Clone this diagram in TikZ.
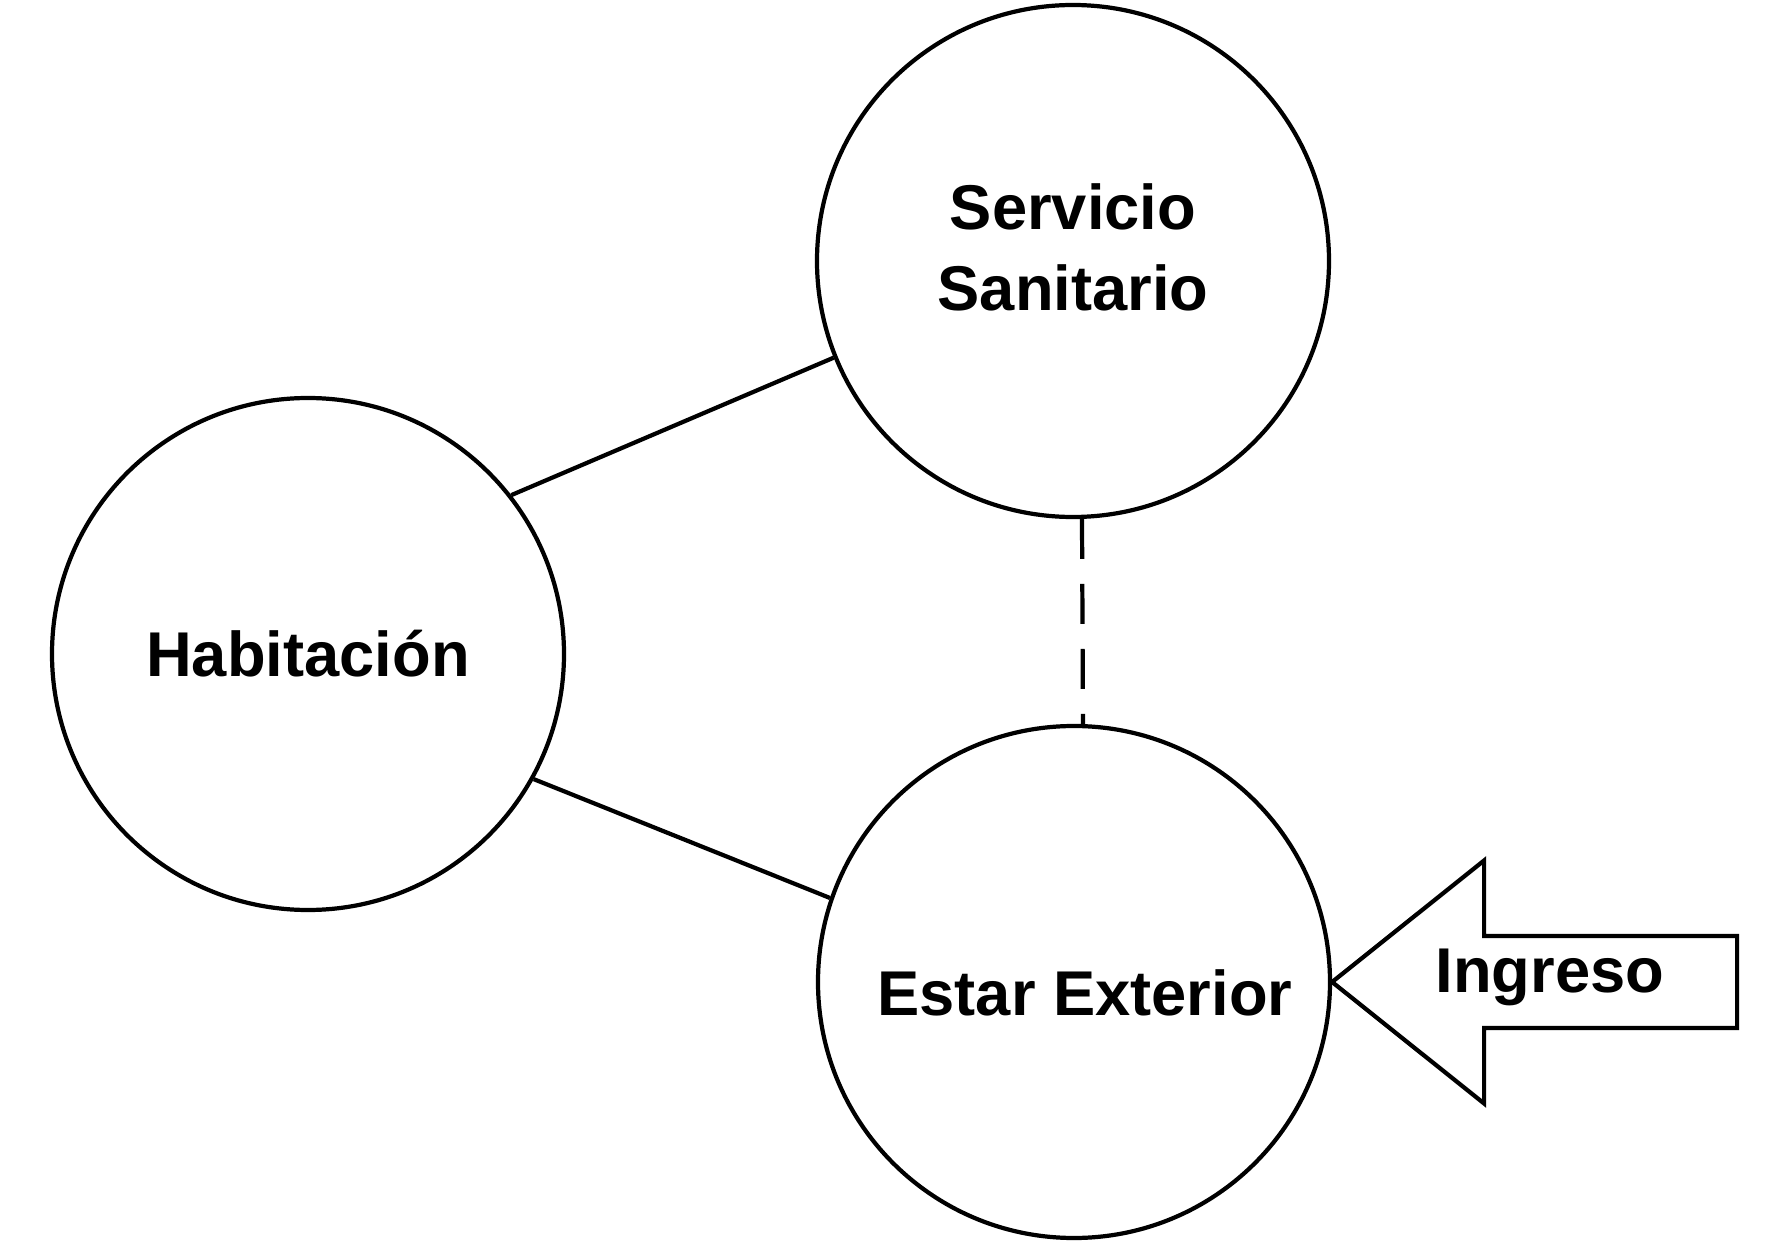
\documentclass[tikz,border=0pt]{standalone}
\usepackage{fontspec}
\setmainfont{Liberation Sans}
\usepackage{tikz}
\usetikzlibrary{positioning,calc}

\begin{document}
\begin{tikzpicture}[
    font=\fontsize{18}{23}\selectfont\bfseries,
    room/.style  = {circle, draw=black, line width=1.2pt, minimum size=5.12cm, inner sep=0pt},
    roomtxt/.style = {align=center, inner sep=0pt},
    link/.style  = {draw=black, line width=1.2pt},
    weak/.style  = {link, dash pattern=on 4mm off 2.5mm},
    entry/.style = {draw=black, line width=1.2pt, line join=miter},
]
\useasboundingbox (0,0) rectangle (17.74,12.43);

%======== rooms ========
\node[room, label={[roomtxt, yshift=1.4mm]center:Servicio\\Sanitario}] (serv) at (10.73,9.82) {};
\node[room, label={[roomtxt]center:Habitación}] (hab) at (3.08,5.89) {};
\node[room, label={[roomtxt, xshift=1.1mm, yshift=-1.1mm]center:Estar Exterior}] (est) at (10.74,2.61) {};

% --- relations
\draw[link] (hab.38)  -- (serv.202);
\draw[link] (hab.-29) -- (est.161);
\draw[weak] (serv.-88) -- (est.88);

%======== entrance arrow ========
\draw[entry] (est.east) -- ++(1.52,1.215) -- ++(0,-0.755) -- ++(2.53,0)
    -- ++(0,-0.92) -- ++(-2.53,0) -- ++(0,-0.755) -- cycle;
\node (ing) at (15.50,2.66) {Ingreso};

\end{tikzpicture}
\end{document}
